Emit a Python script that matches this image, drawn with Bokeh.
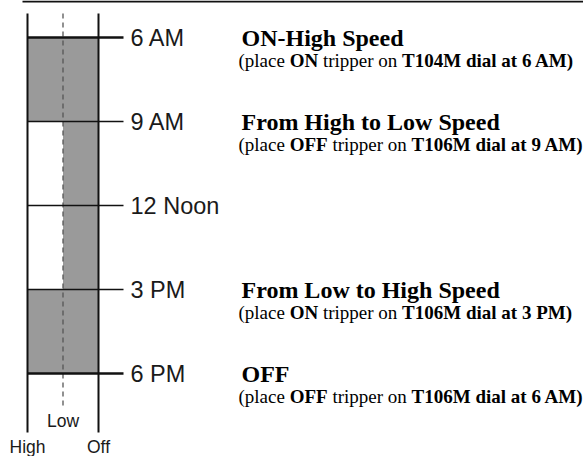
from bokeh.plotting import figure
from bokeh.models import ColumnDataSource, Range1d
from bokeh.core.properties import value
from bokeh.embed import file_html
from bokeh.resources import INLINE

# ---------------- data ----------------
time_labels = ["6 AM", "9 AM", "12 Noon", "3 PM", "6 PM"]
time_hours = [6, 9, 12, 15, 18]

speed_columns = ["High", "Low", "Off"]
column_pos = {"High": 0, "Low": 1, "Off": 2}

seg_start = [6, 9, 15]
seg_end = [9, 15, 18]
seg_speed = ["High", "Low", "High"]

event_hours = [6, 9, 15, 18]
event_titles = ["ON-High Speed", "From High to Low Speed",
                "From Low to High Speed", "OFF"]
event_tripper = ["ON", "OFF", "ON", "OFF"]
event_dial = ["T104M", "T106M", "T106M", "T106M"]
event_dial_time = ["6 AM", "9 AM", "3 PM", "6 AM"]

# ---------------- layout (pixel helpers) ----------------
X0_PX, COL_PX = 27.0, 35.5
Y0_PX, HOUR_PX = 37.0, 28.0


def hx(px):
    return (px - X0_PX) / COL_PX


def hy(py):
    return time_hours[0] + (py - Y0_PX) / HOUR_PX


W, H = 583, 456
p = figure(width=W, height=H, output_backend="svg", toolbar_location=None,
           x_axis_type=None, y_axis_type=None, min_border=0,
           x_range=Range1d(hx(0), hx(W)),
           y_range=Range1d(hy(H), hy(0)))
p.outline_line_color = None
p.background_fill_color = "white"
p.border_fill_color = "white"

GRAY = "#9a9a9a"
INK = "#111111"

# shaded speed segments
p.quad(left=[column_pos[s] for s in seg_speed],
       right=[column_pos["Off"]] * len(seg_speed),
       top=seg_start, bottom=seg_end,
       fill_color=GRAY, line_color=None)

# dashed Low column
p.segment(x0=[column_pos["Low"]], x1=[column_pos["Low"]],
          y0=[hy(13)], y1=[hy(408)],
          line_color="#555555", line_width=1.3, line_dash="5 4")

# High / Off column lines
p.segment(x0=[column_pos["High"], column_pos["Off"]],
          x1=[column_pos["High"], column_pos["Off"]],
          y0=[hy(13)] * 2, y1=[hy(432)] * 2,
          line_color=INK, line_width=2)

# time lines
lw = [2.4 if h in (time_hours[0], time_hours[-1]) else 1.7 for h in time_hours]
p.segment(x0=[column_pos["High"]] * len(time_hours),
          x1=[hx(123)] * len(time_hours),
          y0=time_hours, y1=time_hours,
          line_color=INK, line_width=lw)

# top rule
p.segment(x0=[hx(22)], x1=[hx(600)], y0=[hy(1)], y1=[hy(1)],
          line_color=INK, line_width=2)

# time labels
p.text(x=[hx(130)] * len(time_hours), y=time_hours, text=time_labels,
       text_font=value("Liberation Sans"), text_font_size=value("23.5px"),
       text_color="#1a1a1a", text_baseline="middle", text_align="left")

# column labels
p.text(x=[column_pos["Low"]], y=[hy(420)], text=["Low"],
       text_font=value("Liberation Sans"), text_font_size=value("17.5px"),
       text_color="#1a1a1a", text_baseline="middle", text_align="center")
p.text(x=[column_pos["High"], column_pos["Off"]], y=[hy(446)] * 2,
       text=["High", "Off"],
       text_font=value("Liberation Sans"), text_font_size=value("17.5px"),
       text_color="#1a1a1a", text_baseline="middle", text_align="center")

# headings
HEAD_X = hx(241)
HEAD_DY = 0.0
p.text(x=[HEAD_X] * len(event_hours),
       y=[h + HEAD_DY / HOUR_PX for h in event_hours],
       text=event_titles,
       text_font=value("Liberation Serif"), text_font_style="bold",
       text_font_size=value("24px"), text_color="black",
       text_baseline="middle", text_align="left")

# sub lines with mixed weights (Times metrics)
REG = {'(': 333, 'p': 500, 'l': 278, 'a': 444, 'c': 444, 'e': 444, ' ': 250,
       't': 278, 'r': 333, 'i': 278, 'o': 500, 'n': 500}
BOLD = {'O': 778, 'N': 722, 'F': 611, 'T': 667, '0': 500, '1': 500, '3': 500,
        '4': 500, '6': 500, '9': 500, 'M': 944, ' ': 250, 'd': 556, 'i': 278,
        'a': 500, 'l': 278, 't': 333, 'P': 611, 'A': 722, ')': 333}
SUB_SIZE = 19.0
SUB_X = hx(238)


def tw(s, bold):
    tab = BOLD if bold else REG
    return sum(tab.get(c, 500) for c in s) / 1000.0 * SUB_SIZE


SUB_DY = 23.0
reg = dict(x=[], y=[], t=[])
bld = dict(x=[], y=[], t=[])
for h, trip, dial, dtime in zip(event_hours, event_tripper, event_dial,
                                event_dial_time):
    segs = [("(place ", False), (trip, True), (" tripper on ", False),
            ("%s dial at %s)" % (dial, dtime), True)]
    off = 0.0
    for s, b in segs:
        lead = len(s) - len(s.lstrip(" "))
        d = bld if b else reg
        d["x"].append(SUB_X + (off + tw(" " * lead, b)) / COL_PX)
        d["y"].append(h + SUB_DY / HOUR_PX)
        d["t"].append(s.strip())
        off += tw(s, b)

p.text(x="x", y="y", text="t", source=ColumnDataSource(reg),
       text_font=value("Liberation Serif"), text_font_size=value("%gpx" % SUB_SIZE),
       text_color="black", text_baseline="middle", text_align="left")
p.text(x="x", y="y", text="t", source=ColumnDataSource(bld),
       text_font=value("Liberation Serif"), text_font_style="bold",
       text_font_size=value("%gpx" % SUB_SIZE),
       text_color="black", text_baseline="middle", text_align="left")

open("out.html", "w").write(file_html(p, INLINE))
